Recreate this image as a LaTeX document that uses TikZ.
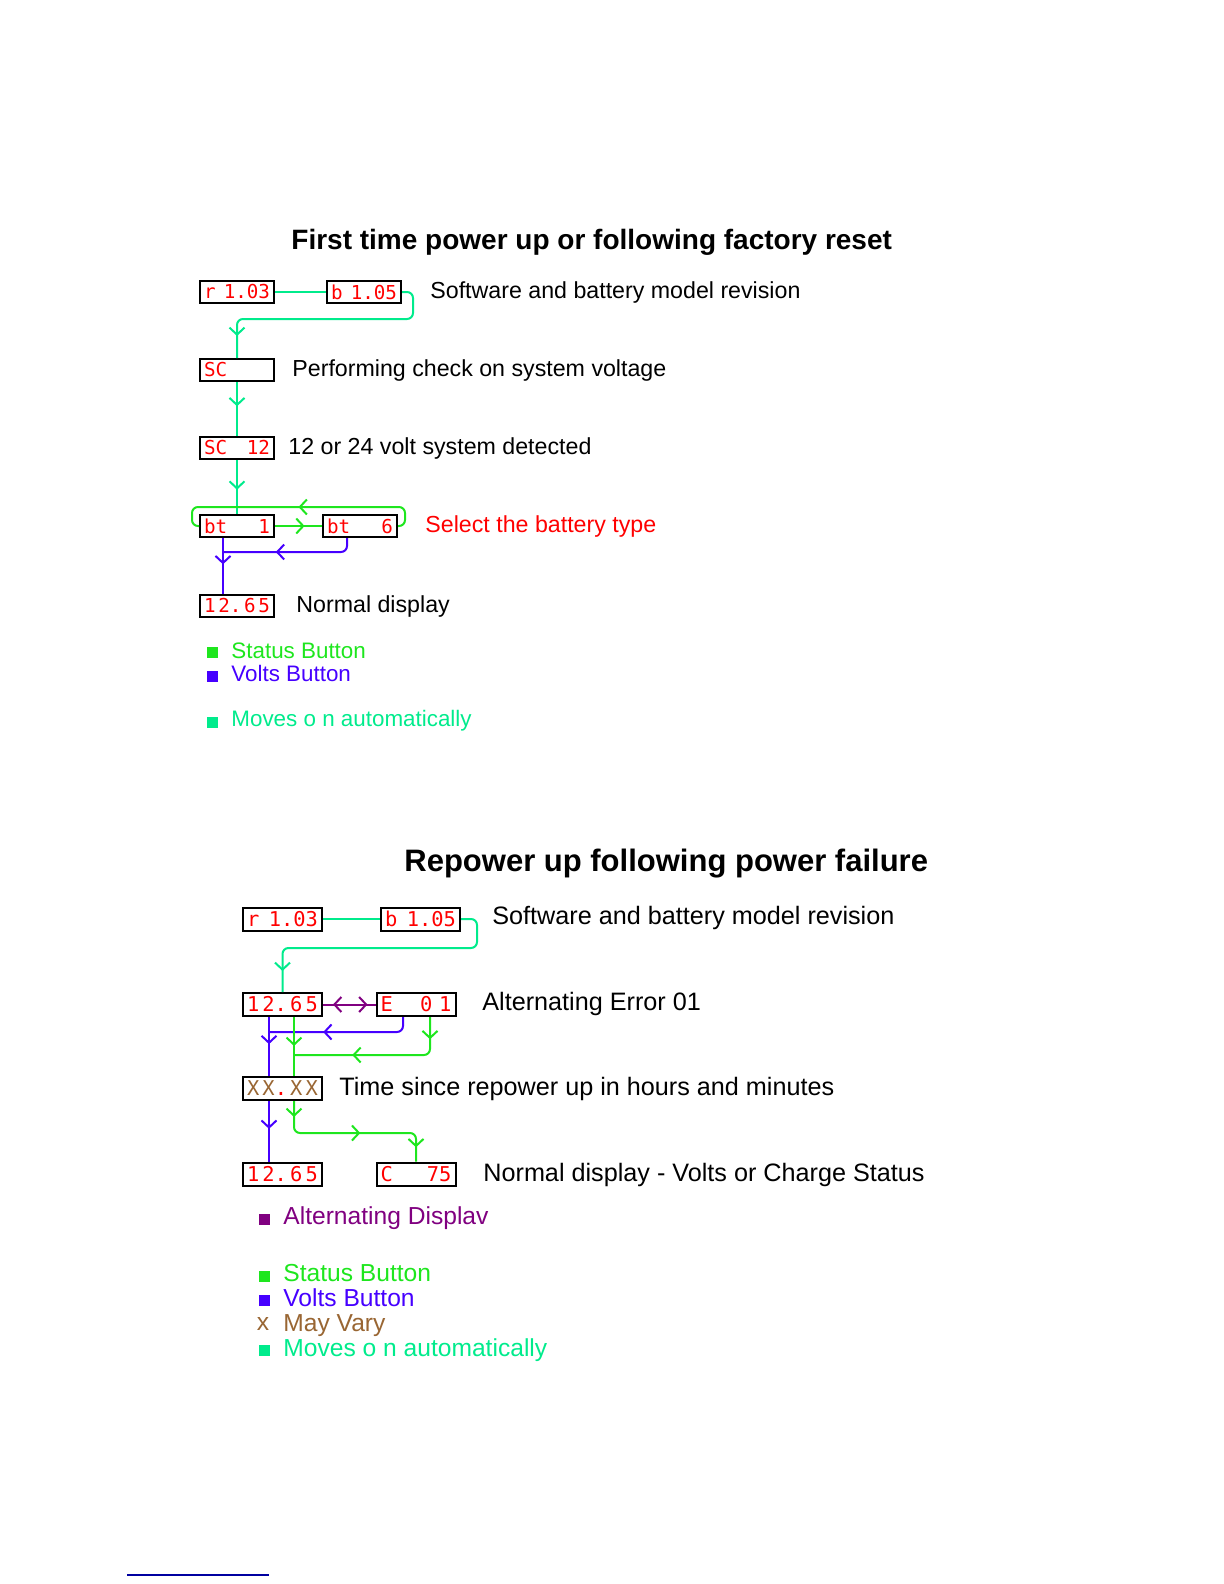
\documentclass[tikz,border=0pt]{standalone}
\usepackage{fontspec}
\setmainfont{Liberation Sans}
\newfontfamily\segfont{DejaVu Sans Mono}
\usetikzlibrary{arrows.meta, decorations.markings}
\definecolor{autog}{RGB}{0,235,140}
\definecolor{statg}{RGB}{30,230,30}
\definecolor{voltb}{RGB}{70,0,255}
\definecolor{altp}{RGB}{128,0,128}
\definecolor{vary}{RGB}{153,102,51}
\definecolor{segred}{RGB}{255,0,0}
\definecolor{linkblue}{RGB}{0,0,160}

\begin{document}
\begin{tikzpicture}[x=0.5pt, y=-0.5pt,
    seg/.style      = {draw, line width=1pt, minimum height=11pt, text width=33pt,
                       inner xsep=2pt, inner ysep=0pt, align=left, text=segred,
                       font=\segfont\fontsize{9.6}{11}\selectfont},
    segb/.style     = {seg, minimum height=11.5pt, text width=35.5pt,
                       font=\segfont\fontsize{10.2}{12}\selectfont},
    desc/.style     = {anchor=west, inner sep=0pt, text height=1.5ex, text depth=.25ex,
                       font=\fontsize{11.6}{13}\selectfont},
    descb/.style    = {desc, font=\fontsize{12.6}{14}\selectfont},
    ttl/.style      = {anchor=west, inner sep=0pt, text height=1.5ex, text depth=.25ex,
                       font=\bfseries\fontsize{14}{16}\selectfont},
    ttlb/.style     = {ttl, font=\bfseries\fontsize{15.5}{18}\selectfont},
    leg/.style      = {desc, font=\fontsize{11.2}{13}\selectfont},
    legb/.style     = {desc, font=\fontsize{12.3}{14}\selectfont},
    sq/.style       = {rectangle, inner sep=0pt, minimum size=5.5pt},
    autoline/.style = {draw=autog, line width=1pt},
    statline/.style = {draw=statg, line width=1pt},
    voltline/.style = {draw=voltb, line width=1pt},
    altline/.style  = {draw=altp, line width=1pt},
    arr/.style      = {postaction={decorate, decoration={markings,
                       mark=at position #1 with {\arrow{Straight Barb[length=3.5pt, width=7.5pt]}}}}},
    altarr/.style   = {postaction={decorate, decoration={markings,
                       mark=at position 5pt with {\arrowreversed{Straight Barb[length=3.5pt, width=7.5pt]}},
                       mark=at position -4pt with {\arrow{Straight Barb[length=3.5pt, width=7.5pt]}}}}}
]
\useasboundingbox (0,0) rectangle (1224,1584);

% first time power up
\node[ttl] (title1) at (291,243) {First time power up or following factory reset};

\node[seg] (rev1)  at (237,292) {r\hfill 1.03};
\node[seg] (bat1)  at (364,292) {b\hfill 1.05};
\node[seg] (sc1)   at (237,370) {SC};
\node[seg] (scv1)  at (237,448) {SC\hfill 12};
\node[seg] (btA)   at (237,526) {bt\hfill 1};
\node[seg] (btB)   at (360,526) {bt\hfill 6};
\node[seg] (norm1) at (237,606) {1\hfill 2.\hfill 6\hfill 5};

\node[desc] (d1) at (430,292) {Software and battery model revision};
\node[desc] (d2) at (292,370) {Performing check on system voltage};
\node[desc] (d3) at (288,448) {12 or 24 volt system detected};
\node[desc, text=segred] (d4) at (425,526) {Select the battery type};
\node[desc] (d5) at (296,606) {Normal display};

\coordinate (jv1) at (223,552);
\draw[autoline] (rev1) -- (bat1);
\draw[autoline, rounded corners=3pt, arr=-11pt] (bat1.east) -| (413,319) -| (sc1.north);
\draw[autoline, arr=0.45] (sc1) -- (scv1);
\draw[autoline, arr=0.55] (scv1) -- (btA);
\draw[statline, arr=0.63] (btA) -- (btB);
\draw[statline, rounded corners=3pt, arr=0.5] (btB.east) -| (405,507) -| (192,526) -- (btA.west);
\draw[voltline, arr=0.47] ([xshift=-7pt]btA.south) -- ([xshift=-7pt]norm1.north);
\draw[voltline, rounded corners=3pt, arr=0.61] ([xshift=-6.5pt]btB.south) |- (jv1);

\node[sq, fill=statg] (sqs1) at (212,652) {};
\node[sq, fill=voltb] (sqv1) at (212,676) {};
\node[sq, fill=autog] (sqa1) at (212,722) {};
\node[leg, text=statg] (ls1) at (231,652) {Status Button};
\node[leg, text=voltb] (lv1) at (231,675) {Volts Button};
\node[leg, text=autog] (la1) at (231,720) {Moves o n automatically};

% repower up
\node[ttlb] (title2) at (404,865) {Repower up following power failure};

\node[segb] (rev2)  at (282.5,919)    {r\hfill 1.03};
\node[segb] (bat2)  at (420.5,919)    {b\hfill 1.05};
\node[segb] (volt2) at (282.5,1004.5) {1\hfill 2.\hfill 6\hfill 5};
\node[segb] (err2)  at (416,1004.5)   {E\hfill 0 1};
\node[segb] (hrs2)  at (282.5,1088.5) {\color{vary}X\hfill X{\color{segred}.}\hfill X\hfill X};
\node[segb] (norm2) at (282.5,1174)   {1\hfill 2.\hfill 6\hfill 5};
\node[segb] (chg2)  at (416,1174)     {C\hfill 75};

\node[descb] (e1) at (492,918)  {Software and battery model revision};
\node[descb] (e2) at (482,1004) {Alternating Error 01};
\node[descb] (e3) at (339,1089) {Time since repower up in hours and minutes};
\node[descb] (e4) at (483,1175) {Normal display - Volts or Charge Status};

\coordinate (jv2) at (269,1032);
\coordinate (js2) at (294,1055);
\draw[autoline] (rev2) -- (bat2);
\draw[autoline, rounded corners=3pt, arr=-10.5pt] (bat2.east) -| (477,948) -| (volt2.north);
\draw[altline, altarr] (volt2) -- (err2);
\draw[voltline, arr=0.46] ([xshift=-6.75pt]volt2.south) -- ([xshift=-6.75pt]hrs2.north);
\draw[voltline, arr=0.46] ([xshift=-6.75pt]hrs2.south) -- ([xshift=-6.75pt]norm2.north);
\draw[voltline, rounded corners=3pt, arr=0.63] ([xshift=-6.5pt]err2.south) |- (jv2);
\draw[statline, arr=0.49] ([xshift=5.75pt]volt2.south) -- ([xshift=5.75pt]hrs2.north);
\draw[statline, rounded corners=3pt, arr=0.13, arr=0.66] ([xshift=7pt]err2.south) |- (js2);
\draw[statline, rounded corners=3pt, arr=0.09, arr=0.54, arr=0.92]
    ([xshift=5.75pt]hrs2.south) -- ++(0,32) -| (chg2.north);

\node[sq, fill=altp]  (sqp2) at (264,1219) {};
\node[sq, fill=statg] (sqs2) at (264,1276) {};
\node[sq, fill=voltb] (sqv2) at (264,1300) {};
\node[legb, text=vary, anchor=center] (sqx2) at (263,1324) {x};
\node[sq, fill=autog] (sqa2) at (264,1350) {};
\node[legb, text=altp]  (lp2) at (283,1218) {Alternating Displav};
\node[legb, text=statg] (ls2) at (283,1275) {Status Button};
\node[legb, text=voltb] (lv2) at (283,1300) {Volts Button};
\node[legb, text=vary]  (lx2) at (283,1325) {May Vary};
\node[legb, text=autog] (la2) at (283,1350) {Moves o n automatically};

\coordinate (ul1) at (127,1575);
\coordinate (ul2) at (269,1575);
\draw[linkblue, line width=0.8pt] (ul1) -- (ul2);
\end{tikzpicture}
\end{document}
